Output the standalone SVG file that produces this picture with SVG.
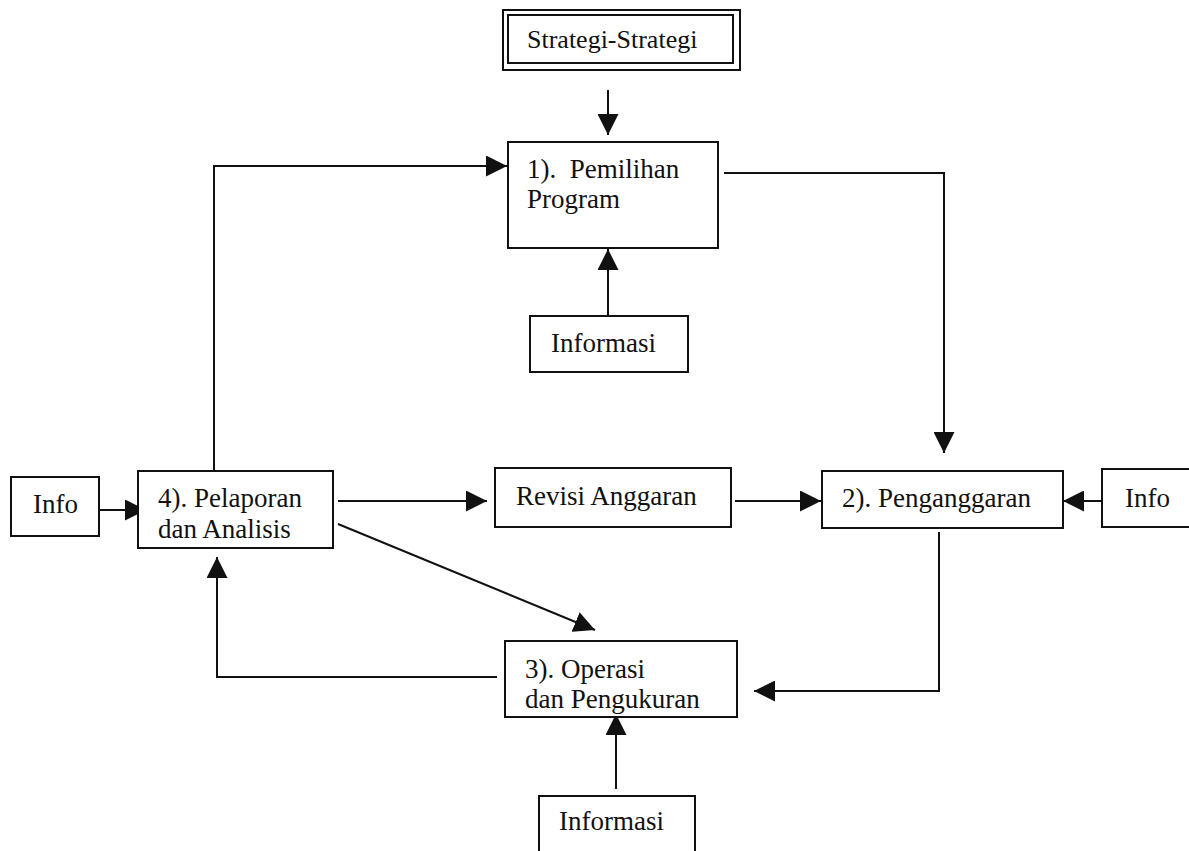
<svg xmlns="http://www.w3.org/2000/svg" width="1189" height="851" viewBox="0 0 1189 851">
<style>
.box{fill:#fff;stroke:#111;stroke-width:2}
.t{font-family:"Liberation Serif","Times New Roman",serif;font-size:27px;fill:#111}
.c{fill:none;stroke:#111;stroke-width:2}
</style>
<defs>
<marker id="ah" markerUnits="userSpaceOnUse" markerWidth="21" markerHeight="21" refX="20" refY="10" orient="auto" viewBox="0 0 20 20">
<path d="M0,0 L20,10 L0,20 z" fill="#111"/>
</marker>
</defs>
<rect width="1189" height="851" fill="#fff"/>
<g id="connectors">
<path class="c" d="M608,90 L608,135" marker-end="url(#ah)"/>
<path class="c" d="M608,316 L608,249" marker-end="url(#ah)"/>
<path class="c" d="M214,471 L214,166 L507,166" marker-end="url(#ah)"/>
<path class="c" d="M724,173 L944,173 L944,453" marker-end="url(#ah)"/>
<path class="c" d="M99,510 L146,510" marker-end="url(#ah)"/>
<path class="c" d="M338,501 L487,501" marker-end="url(#ah)"/>
<path class="c" d="M735,501 L821,501" marker-end="url(#ah)"/>
<path class="c" d="M1102,501 L1063,501" marker-end="url(#ah)"/>
<path class="c" d="M338,524 L595,630" marker-end="url(#ah)"/>
<path class="c" d="M939,532 L939,691 L754,691" marker-end="url(#ah)"/>
<path class="c" d="M497,677 L217,677 L217,557" marker-end="url(#ah)"/>
<path class="c" d="M616,789 L616,714" marker-end="url(#ah)"/>
</g>
<g id="strategi">
<rect class="box" x="503" y="10" width="237" height="60"/>
<rect class="box" x="508" y="15" width="225" height="48"/>
<text class="t" x="527" y="48" style="font-size:26px">Strategi-Strategi</text>
</g>
<g id="pemilihan">
<rect class="box" x="508" y="142" width="210" height="106"/>
<text class="t" x="527" y="178" xml:space="preserve">1).  Pemilihan</text>
<text class="t" x="527" y="208">Program</text>
</g>
<g id="informasi-atas">
<rect class="box" x="530" y="316" width="158" height="56"/>
<text class="t" x="551" y="352">Informasi</text>
</g>
<g id="info-kiri">
<rect class="box" x="11" y="477" width="88" height="59"/>
<text class="t" x="33" y="513">Info</text>
</g>
<g id="pelaporan">
<rect class="box" x="138" y="471" width="195" height="77"/>
<text class="t" x="158" y="507">4). Pelaporan</text>
<text class="t" x="158" y="538">dan Analisis</text>
</g>
<g id="revisi">
<rect class="box" x="495" y="468" width="236" height="59"/>
<text class="t" x="516" y="505">Revisi Anggaran</text>
</g>
<g id="penganggaran">
<rect class="box" x="822" y="471" width="241" height="57"/>
<text class="t" x="842" y="507">2). Penganggaran</text>
</g>
<g id="info-kanan">
<rect class="box" x="1102" y="469" width="95" height="58"/>
<text class="t" x="1125" y="507">Info</text>
</g>
<g id="operasi">
<rect class="box" x="505" y="641" width="232" height="76"/>
<text class="t" x="525" y="678">3). Operasi</text>
<text class="t" x="525" y="708">dan Pengukuran</text>
</g>
<g id="informasi-bawah">
<rect class="box" x="539" y="796" width="156" height="70"/>
<text class="t" x="559" y="830">Informasi</text>
</g>
</svg>
